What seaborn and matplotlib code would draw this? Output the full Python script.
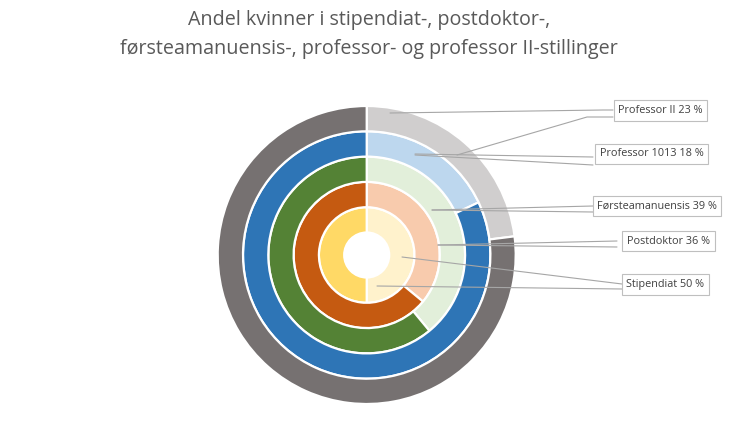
import matplotlib.pyplot as plt
import seaborn as sns

# ringer fra inn til ut
stillinger = ['Stipendiat', 'Postdoktor', 'Førsteamanuensis', 'Professor 1013', 'Professor II']
andel_kvinner = [50, 36, 39, 18, 23]
farge_kvinner = ['#FFF2CC', '#F8CBAD', '#E2EFDA', '#BDD7EE', '#D0CECE']
farge_menn = ['#FFD966', '#C55A11', '#548235', '#2E75B6', '#767171']

tittel = 'Andel kvinner i stipendiat-, postdoktor-,\nførsteamanuensis-, professor- og professor II-stillinger'

# layout i piksler (bildet er 735x443)
W, H = 735, 443
CX, CY, R = 366.7, 255.0, 149.0
HULL = 22.5 / R

# etikett-bokser (midtpunkt) og ledelinjer, i piksler
etikett_pos = {
    'Professor II': (660.5, 110.5),
    'Professor 1013': (651.5, 154),
    'Førsteamanuensis': (657, 206),
    'Postdoktor': (668.5, 241),
    'Stipendiat': (665.5, 284.5),
}
ledelinjer = [
    [(390, 113), (603, 110), (613, 110)],
    [(457, 155), (587, 117), (613, 117)],
    [(415, 154), (593, 157)],
    [(415, 155), (593, 165)],
    [(432, 210), (593, 206)],
    [(432, 210), (593, 212)],
    [(438, 245), (617, 241)],
    [(438, 245), (617, 247)],
    [(402, 257), (622, 284)],
    [(377, 286), (622, 289)],
]


def px(x, y):
    return (x - CX) / R, (CY - y) / R


sns.set_theme(style='white')
plt.rcParams['font.family'] = ['Open Sans', 'DejaVu Sans']

fig = plt.figure(figsize=(W / 100, H / 100), dpi=100)
ax = fig.add_axes([0, 0, 1, 1])

bredde = (1 - HULL) / len(stillinger)
n = len(stillinger)
for i, (navn, k) in enumerate(zip(stillinger, andel_kvinner)):
    radius = 1 - (n - 1 - i) * bredde
    ax.pie([k, 100 - k], radius=radius, startangle=90, counterclock=False,
           colors=[farge_kvinner[i], farge_menn[i]],
           wedgeprops=dict(width=bredde, edgecolor='white', linewidth=1.6),
           frame=False)

for linje in ledelinjer:
    xs, ys = zip(*[px(x, y) for x, y in linje])
    ax.plot(xs, ys, color='#A6A6A6', lw=0.8, zorder=3)

for navn, k in zip(stillinger, andel_kvinner):
    x, y = px(*etikett_pos[navn])
    ax.text(x, y, f'{navn} {k} %', ha='center', va='center', fontsize=7.8,
            color='#404040', zorder=4,
            bbox=dict(boxstyle='square,pad=0.42', fc='white', ec='#BFBFBF', lw=0.8))

ax.set_xlim(-CX / R, (W - CX) / R)
ax.set_ylim(-(H - CY) / R, CY / R)
ax.set_aspect('auto')
ax.axis('off')

fig.text(369 / W, 1 - 10 / H, tittel, ha='center', va='top', fontsize=14.2,
         color='#595959', linespacing=1.6)

fig.savefig('out.png', dpi=100)
